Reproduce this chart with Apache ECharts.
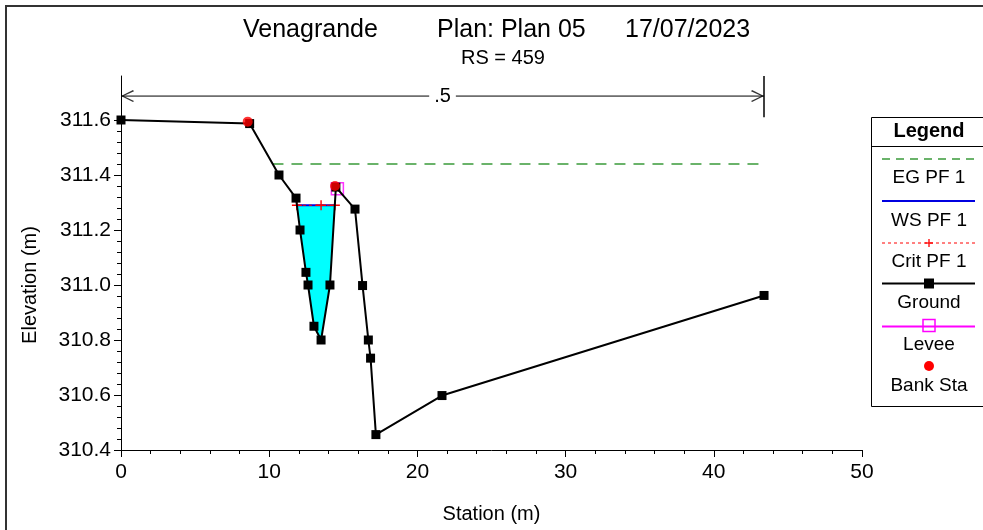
<!DOCTYPE html>
<html><head><meta charset="utf-8">
<script src="https://cdn.jsdelivr.net/npm/echarts@6/dist/echarts.min.js"></script>
<style>html,body{margin:0;padding:0;background:#fff}#c{width:983px;height:530px}</style>
</head><body><div id="c"></div>
<script>
// ---- data ----
const stations = [0, 8.68, 10.66, 11.81, 12.08, 12.48, 12.62, 13.02, 13.5, 14.1, 14.5, 15.79, 16.3, 16.69, 16.84, 17.2, 21.66, 43.39];
const ground   = [311.6, 311.587, 311.4, 311.316, 311.2, 311.046, 311.0, 310.85, 310.8, 311.0, 311.356, 311.276, 310.998, 310.8, 310.734, 310.456, 310.598, 310.962];
const waterX = [11.87, 12.08, 12.48, 12.62, 13.02, 13.5, 14.1, 14.43];
const waterY = [311.29, 311.2, 311.046, 311.0, 310.85, 310.8, 311.0, 311.29];
const wsX = [11.87, 14.43];
const wsY = [311.29, 311.29];
const critX = [11.87, 13.5, 14.43];
const critY = [311.29, 311.29, 311.29];
const egX = [10.22, 43.39];
const egY = [311.44, 311.44];
const leveeX = [14.6];
const leveeY = [311.35];
const bankX = [8.55, 14.44];
const bankY = [311.594, 311.36];
const nStations = [0, 43.39];
const nValues = ['.5'];
const nElev = 311.687;
const nTickBottom = 311.61;
const xTicks = [0, 10, 20, 30, 40, 50];
const yTicks = [310.4, 310.6, 310.8, 311.0, 311.2, 311.4, 311.6];
const yTop = 311.76;
const legendNames = ['EG PF 1', 'WS PF 1', 'Crit PF 1', 'Ground', 'Levee', 'Bank Sta'];
const titleParts = ['Venagrande', 'Plan: Plan 05', '17/07/2023'];
const subTitle = 'RS = 459';

const FONT = "'Liberation Sans', Arial, sans-serif";
const pair = (xs, ys) => xs.map((x, i) => [x, ys[i]]);
const chevL = 'path://M0,6 L12,0 L13,1.2 L2.6,6 L13,10.8 L12,12 Z';
const chevR = 'path://M13,6 L1,0 L0,1.2 L10.4,6 L0,10.8 L1,12 Z';
const cross = 'path://M4.3,0 H5.7 V4.3 H10 V5.7 H5.7 V10 H4.3 V5.7 H0 V4.3 H4.3 Z';

// minor tick positions between the labelled y ticks (5 sub-intervals)
const yMinor = [];
for (let i = 0; i < yTicks.length - 1; i++) {
  for (let k = 1; k < 5; k++) yMinor.push(+(yTicks[i] + (yTicks[i+1] - yTicks[i]) * k / 5).toFixed(4));
}

const chart = echarts.init(document.getElementById('c'));

// legend graphic
const lg = [];
const LX0 = 882, LX1 = 975, LC = 929;
lg.push({type:'rect', shape:{x:871.5, y:117.5, width:200, height:289}, style:{fill:'#fff', stroke:'#000', lineWidth:1}, z:10});
lg.push({type:'line', shape:{x1:871.5, y1:146.5, x2:990, y2:146.5}, style:{stroke:'#000', lineWidth:1}, z:11});
lg.push({type:'text', x:LC, y:131, style:{text:'Legend', font:'bold 20px ' + FONT, fill:'#000', align:'center', verticalAlign:'middle'}, z:11});
const lineY = [159, 201, 243, 283.5, 326.5, 366];
const labY = [178, 221, 262, 303, 345, 386];
const lineStyles = [
  {stroke:'#3a9a3a', lineWidth:1.5, lineDash:[8,6]},
  {stroke:'#0000e0', lineWidth:2},
  {stroke:'#ff0000', lineWidth:1, lineDash:[3,3]},
  {stroke:'#000', lineWidth:2},
  {stroke:'#ff00ff', lineWidth:2},
  null
];
legendNames.forEach((n, i) => {
  if (lineStyles[i]) lg.push({type:'line', shape:{x1:LX0, y1:lineY[i], x2:LX1, y2:lineY[i]}, style:lineStyles[i], z:11});
  lg.push({type:'text', x:LC, y:labY[i], style:{text:n, font:'19px ' + FONT, fill:'#000', align:'center', verticalAlign:'middle'}, z:11});
});
lg.push({type:'line', shape:{x1:LC-4, y1:lineY[2], x2:LC+4, y2:lineY[2]}, style:{stroke:'#ff0000', lineWidth:1.3}, z:12});
lg.push({type:'line', shape:{x1:LC, y1:lineY[2]-4, x2:LC, y2:lineY[2]+4}, style:{stroke:'#ff0000', lineWidth:1.3}, z:12});
lg.push({type:'rect', shape:{x:LC-5, y:lineY[3]-5, width:10, height:10}, style:{fill:'#000'}, z:12});
lg.push({type:'rect', shape:{x:LC-6, y:lineY[4]-7, width:12, height:12}, style:{fill:'none', stroke:'#ff00ff', lineWidth:1.5}, z:12});
lg.push({type:'circle', shape:{cx:LC, cy:lineY[5], r:5}, style:{fill:'#ff0000'}, z:12});

const graphics = [
  {type:'rect', shape:{x:6, y:6, width:1200, height:800}, style:{fill:'none', stroke:'#333', lineWidth:2}, silent:true, z:0},
  {type:'text', x:243, y:30, style:{text:titleParts[0], font:'25px ' + FONT, fill:'#000', align:'left', verticalAlign:'middle'}},
  {type:'text', x:437, y:30, style:{text:titleParts[1], font:'25px ' + FONT, fill:'#000', align:'left', verticalAlign:'middle'}},
  {type:'text', x:625, y:30, style:{text:titleParts[2], font:'25px ' + FONT, fill:'#000', align:'left', verticalAlign:'middle'}},
  {type:'text', x:503, y:58, style:{text:subTitle, font:'20px ' + FONT, fill:'#000', align:'center', verticalAlign:'middle'}},
  {type:'text', x:30, y:285, rotation:Math.PI/2, style:{text:'Elevation (m)', font:'20px ' + FONT, fill:'#000', align:'center', verticalAlign:'middle'}}
].concat(lg);

const option = {
  animation:false,
  backgroundColor:'#fff',
  grid:{left:121, right:121, top:76, bottom:80},
  xAxis:{
    type:'value',
    min:xTicks[0], max:xTicks[xTicks.length-1], interval:xTicks[1]-xTicks[0],
    axisLine:{show:true, lineStyle:{color:'#000', width:1}},
    axisTick:{show:true, length:7, lineStyle:{color:'#000', width:1}},
    minorTick:{show:true, splitNumber:5, length:4, lineStyle:{color:'#000', width:1}},
    splitLine:{show:false},
    axisLabel:{color:'#000', fontSize:21, fontFamily:FONT, margin:12},
    name:'Station (m)', nameLocation:'middle', nameGap:54,
    nameTextStyle:{color:'#000', fontSize:20, fontFamily:FONT}
  },
  yAxis:[{
    type:'value', position:'left',
    min:yTicks[0], max:yTop, interval:0.2,
    axisLine:{show:true, lineStyle:{color:'#000', width:1}},
    axisTick:{show:true, length:7, lineStyle:{color:'#000', width:1}, customValues:yTicks},
    splitLine:{show:false},
    axisLabel:{color:'#000', fontSize:21, fontFamily:FONT, margin:10, customValues:yTicks,
      formatter:v => (+v).toFixed(1)}
  }, {
    type:'value', position:'left', offset:0,
    min:yTicks[0], max:yTop, interval:0.2,
    axisLine:{show:false},
    axisTick:{show:true, length:4, lineStyle:{color:'#000', width:1}, customValues:yMinor},
    axisLabel:{show:false},
    splitLine:{show:false}
  }],
  graphic:graphics,
  series:[
    {name:'Water', type:'custom', z:1, data:pair(waterX, waterY),
      renderItem:(params, api) => {
        if (params.dataIndex !== 0) return null;
        const pts = waterX.map((x, i) => api.coord([x, waterY[i]]));
        return {type:'polygon', shape:{points:pts}, style:{fill:'#00ffff', stroke:'none'}};
      }},
    {name:'EG PF 1', type:'line', z:2, data:pair(egX, egY), symbol:'none',
      lineStyle:{color:'#3a9a3a', width:1.5, type:[11,8]}},
    {name:'WS PF 1', type:'line', z:3, data:pair(wsX, wsY), symbol:'none',
      lineStyle:{color:'#0000e0', width:2}},
    {name:'Crit PF 1', type:'line', z:4, data:pair(critX, critY), symbol:cross, symbolSize:10,
      itemStyle:{color:'#ff0000'}, lineStyle:{color:'#ff0000', width:1, type:[3,3]}},
    {name:'Levee', type:'scatter', z:5, data:pair(leveeX, leveeY), symbol:'rect', symbolSize:12,
      itemStyle:{color:'rgba(0,0,0,0)', borderColor:'#ff00ff', borderWidth:1.5}},
    {name:'Ground', type:'line', z:6, data:pair(stations, ground), symbol:'rect', symbolSize:9,
      itemStyle:{color:'#000'}, lineStyle:{color:'#000', width:2}},
    {name:'Bank Sta', type:'scatter', z:7, data:pair(bankX, bankY), symbol:'circle', symbolSize:10,
      itemStyle:{color:'#ff0000'}},
    {name:'n', type:'line', z:2, data:pair(nStations, nStations.map(() => nElev)), symbol:'none',
      lineStyle:{color:'#000', width:1},
      markLine:{silent:true, symbol:'none', animation:false, z:8,
        lineStyle:{color:'#000', width:1.5, type:'solid'},
        label:{show:false},
        data:[
          [{coord:[nStations[1], yTop]}, {coord:[nStations[1], nTickBottom]}],
          [{coord:[nStations[0], nElev], lineStyle:{color:'rgba(0,0,0,0)', width:1},
            label:{show:true, position:'insideMiddle', formatter:nValues[0], color:'#000', fontSize:20, fontFamily:FONT,
              backgroundColor:'#fff', padding:[1,5], distance:0}},
           {coord:[nStations[1], nElev]}]
        ]}},
    {name:'n arrows', type:'scatter', z:3, symbolSize:[13,12],
      itemStyle:{color:'#000'},
      data:[
        {value:[nStations[0], nElev], symbol:chevL, symbolOffset:[6.5,0]},
        {value:[nStations[1], nElev], symbol:chevR, symbolOffset:[-6.5,0]}
      ]}
  ]
};
chart.setOption(option);
</script>
</body></html>
